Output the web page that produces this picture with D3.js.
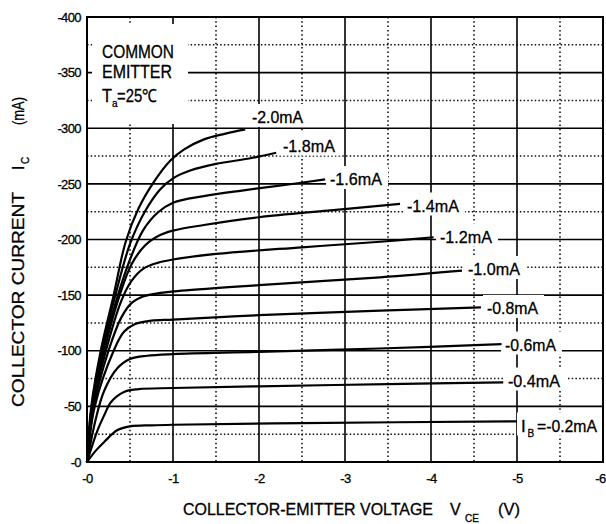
<!DOCTYPE html>
<html>
<head>
<meta charset="utf-8">
<script src="https://cdn.jsdelivr.net/npm/d3@7"></script>
<style>
  body { margin: 0; background: #fff; }
  text { font-family: "Liberation Sans", Arial, sans-serif; fill: #000; stroke: #000; stroke-width: 0.3px; }
</style>
</head>
<body>
<svg id="chart" width="606" height="524"></svg>
<script>
// tick labels
var xTicks = [0, 1, 2, 3, 4, 5, 6];
var yTicks = [0, 50, 100, 150, 200, 250, 300, 350, 400];

// base current labels, top curve first
var ibLabels = ["-2.0mA", "-1.8mA", "-1.6mA", "-1.4mA", "-1.2mA", "-1.0mA", "-0.8mA", "-0.6mA", "-0.4mA", "=-0.2mA"];

// [Vce (V), Ic (mA)], magnitudes
var ib20 = [[0,0],[0.05,50],[0.16,100],[0.31,150],[0.45,198],[0.6,228],[0.78,252],[0.97,271],[1.13,281],[1.36,290],[1.6,295],[1.84,299]];
var ib18 = [[0,0],[0.055,50],[0.17,100],[0.33,150],[0.5,196],[0.68,226],[0.85,245],[1.0,255],[1.2,262],[1.5,268],[1.9,273],[2.2,278]];
var ib16 = [[0,0],[0.06,50],[0.18,100],[0.36,150],[0.5,182],[0.65,208],[0.82,224],[1.0,233],[1.36,239],[1.8,244],[2.3,249],[2.77,254]];
var ib14 = [[0,0],[0.065,50],[0.2,100],[0.38,150],[0.52,178],[0.68,195],[0.85,204],[1.0,208],[1.36,213],[2.0,220],[2.8,226],[3.64,232]];
var ib12 = [[0,0],[0.07,50],[0.22,100],[0.4,145],[0.52,163],[0.66,174],[0.82,179],[1.0,182],[1.5,187],[2.5,193],[3.41,198],[4.03,202]];
var ib10 = [[0,0],[0.08,50],[0.25,100],[0.4,130],[0.52,143],[0.66,149],[0.85,152],[1.1,154],[2.0,159],[3.41,166],[4.36,172]];
var ib08 = [[0,0],[0.09,50],[0.31,100],[0.43,117],[0.56,124],[0.75,127],[1.0,128],[2.0,132],[3.41,136],[4.58,139]];
var ib06 = [[0,0],[0.1,38],[0.2,64],[0.35,84],[0.5,92.5],[0.7,95.5],[1.0,97],[2.0,99],[3.4,102],[4.82,106]];
var ib04 = [[0,0],[0.12,28],[0.2,42],[0.28,54],[0.43,63],[0.6,65.5],[1.0,66.5],[2.0,68],[3.5,70],[4.84,71.5]];
var ib02 = [[0,0],[0.1,10],[0.2,18],[0.35,28.5],[0.5,32],[0.75,33],[1.0,33.5],[2.5,35],[5.0,36.5]];

var curves = [ib20, ib18, ib16, ib14, ib12, ib10, ib08, ib06, ib04, ib02];

// label placement: left x, baseline, text width
var labelPos = [
  [252, 123, 51], [283, 151.5, 52], [330, 185, 52], [407, 211.5, 52], [440, 242.5, 52],
  [468, 275, 52], [487, 314, 51], [505, 350.5, 51], [508, 386.5, 52], [537, 431.5, 60]
];

var svg = d3.select("#chart");
var margin = {top: 17, right: 3, bottom: 62, left: 87},
    width = 606, height = 524;

var x = d3.scaleLinear().domain([0, 6]).range([margin.left, width - margin.right]);
var y = d3.scaleLinear().domain([0, 400]).range([height - margin.bottom, margin.top]);

// dotted half-step grid
var grid = svg.append("g");
grid.selectAll(".vdot").data(d3.range(0.5, 6, 1)).enter().append("line")
  .attr("x1", d => x(d)).attr("x2", d => x(d))
  .attr("y1", y(400)).attr("y2", y(0))
  .attr("stroke", "#111").attr("stroke-width", 1.6).attr("stroke-dasharray", "1.5,2.8");
grid.selectAll(".hdot").data(d3.range(25, 400, 50)).enter().append("line")
  .attr("x1", x(0)).attr("x2", x(6))
  .attr("y1", d => y(d)).attr("y2", d => y(d))
  .attr("stroke", "#111").attr("stroke-width", 1.6).attr("stroke-dasharray", "1.5,2.2");

// solid grid
grid.selectAll(".vsol").data(xTicks.slice(1, -1)).enter().append("line")
  .attr("x1", d => x(d)).attr("x2", d => x(d))
  .attr("y1", y(400)).attr("y2", y(0))
  .attr("stroke", "#000").attr("stroke-width", 1.6);
grid.selectAll(".hsol").data(yTicks.slice(1, -1)).enter().append("line")
  .attr("x1", x(0)).attr("x2", x(6))
  .attr("y1", d => y(d)).attr("y2", d => y(d))
  .attr("stroke", "#000").attr("stroke-width", 1.6);

// white backing for legend and curve labels
svg.append("rect").attr("x", 92).attr("y", 24).attr("width", 96).attr("height", 100).attr("fill", "#fff");
svg.append("g").selectAll("rect").data(labelPos).enter().append("rect")
  .attr("x", (d, i) => d[0] - (i == 9 ? 20 : 4))
  .attr("y", d => d[1] - 19)
  .attr("width", (d, i) => d[2] + (i == 9 ? 26 : 10))
  .attr("height", 23)
  .attr("fill", "#fff");

// frame
svg.append("rect")
  .attr("x", x(0)).attr("y", y(400))
  .attr("width", x(6) - x(0)).attr("height", y(0) - y(400))
  .attr("fill", "none").attr("stroke", "#000").attr("stroke-width", 2);

// curves
var line = d3.line().x(d => x(d[0])).y(d => y(d[1])).curve(d3.curveCatmullRom.alpha(0.5));
svg.append("g").selectAll("path").data(curves).enter().append("path")
  .attr("d", line)
  .attr("fill", "none").attr("stroke", "#000").attr("stroke-width", 2.2);

// curve labels
svg.append("g").selectAll("text").data(labelPos).enter().append("text")
  .attr("x", d => d[0]).attr("y", d => d[1])
  .attr("font-size", 17)
  .attr("textLength", d => d[2]).attr("lengthAdjust", "spacingAndGlyphs")
  .text((d, i) => ibLabels[i]);
svg.append("text").attr("x", 521).attr("y", 431.5).attr("font-size", 17).text("I");
svg.append("text").attr("x", 527.5).attr("y", 437).attr("font-size", 10).text("B");

// axes
svg.append("g")
  .attr("transform", "translate(" + x(0) + ",0)")
  .call(d3.axisLeft(y).tickValues(yTicks).tickFormat(d => "-" + d).tickSize(0).tickPadding(6))
  .call(g => g.select(".domain").remove())
  .call(g => g.selectAll("text").attr("font-size", 13).attr("letter-spacing", -0.6)
    .style("font-family", "'Liberation Sans', Arial, sans-serif").attr("fill", "#000"));

svg.append("g")
  .attr("transform", "translate(0," + y(0) + ")")
  .call(d3.axisBottom(x).tickValues(xTicks).tickFormat(d => "-" + d).tickSize(0).tickPadding(12))
  .call(g => g.select(".domain").remove())
  .call(g => g.selectAll("text").attr("font-size", 13).attr("letter-spacing", -0.6)
    .style("font-family", "'Liberation Sans', Arial, sans-serif").attr("fill", "#000")
    .attr("dx", d => d == 6 ? -3 : 0));

// legend
svg.append("text").attr("x", 102).attr("y", 58).attr("font-size", 18)
  .attr("textLength", 72).attr("lengthAdjust", "spacingAndGlyphs").text("COMMON");
svg.append("text").attr("x", 102).attr("y", 78).attr("font-size", 18)
  .attr("textLength", 70).attr("lengthAdjust", "spacingAndGlyphs").text("EMITTER");
svg.append("text").attr("x", 102).attr("y", 101.5).attr("font-size", 18)
  .attr("textLength", 10).attr("lengthAdjust", "spacingAndGlyphs").text("T");
svg.append("text").attr("x", 112).attr("y", 107).attr("font-size", 10).text("a");
svg.append("text").attr("x", 117).attr("y", 101.5).attr("font-size", 18)
  .attr("textLength", 40).attr("lengthAdjust", "spacingAndGlyphs").text("=25℃");

// x axis title
svg.append("text").attr("x", 183).attr("y", 515).attr("font-size", 16)
  .attr("textLength", 250).attr("lengthAdjust", "spacingAndGlyphs").text("COLLECTOR-EMITTER VOLTAGE");
svg.append("text").attr("x", 450).attr("y", 515).attr("font-size", 16).text("V");
svg.append("text").attr("x", 465).attr("y", 522).attr("font-size", 10).text("CE");
svg.append("text").attr("x", 498).attr("y", 515).attr("font-size", 16)
  .attr("textLength", 22).attr("lengthAdjust", "spacingAndGlyphs").text("(V)");

// y axis title
svg.append("text").attr("transform", "translate(23.5,407) rotate(-90)").attr("font-size", 16)
  .attr("textLength", 215).attr("lengthAdjust", "spacingAndGlyphs").text("COLLECTOR CURRENT");
svg.append("text").attr("transform", "translate(23.5,170) rotate(-90)").attr("font-size", 16).text("I");
svg.append("text").attr("transform", "translate(28.5,164) rotate(-90)").attr("font-size", 10).text("C");
svg.append("text").attr("transform", "translate(23.5,125) rotate(-90)").attr("font-size", 16)
  .attr("textLength", 28).attr("lengthAdjust", "spacingAndGlyphs").text("(mA)");
</script>
</body>
</html>
